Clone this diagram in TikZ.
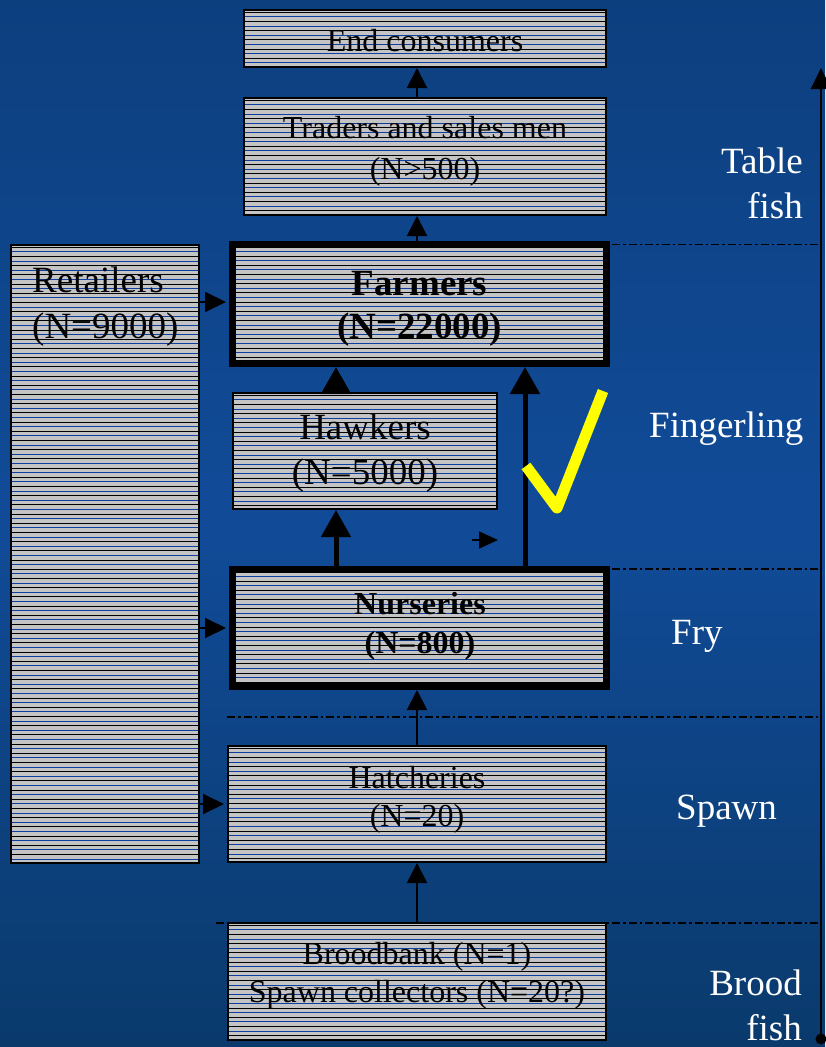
\documentclass[tikz,border=0pt]{standalone}
\usepackage{fontspec}
\setmainfont{Liberation Serif}
\usetikzlibrary{arrows.meta,calc}
\definecolor{bgmid}{HTML}{114B98}
\definecolor{bgtop}{HTML}{0C3F7E}
\definecolor{bgbot}{HTML}{0A3A6C}
\definecolor{boxgray}{HTML}{C4C4C4}
\definecolor{stripeblue}{HTML}{0E3F9E}
\definecolor{tickyellow}{HTML}{FFFF00}
\begin{document}
\begin{tikzpicture}[x=1pt,y=-1pt,
  stripes/.style={path picture={
    \foreach \k in {0,...,70}{
      \draw[black,line width=1pt] ([yshift={-2.3pt-\k*9.2pt}]path picture bounding box.north west) -- ++(420pt,0pt);
      \draw[stripeblue,line width=1pt] ([yshift={-6.9pt-\k*9.2pt}]path picture bounding box.north west) -- ++(420pt,0pt);
    }}},
  thinbox/.style={draw=black,line width=2pt,fill=boxgray,stripes,inner sep=0pt,outer sep=1pt,anchor=north west},
  thickbox/.style={draw=black,line width=7pt,fill=boxgray,stripes,inner sep=0pt,outer sep=3.5pt,anchor=north west},
  boxtext/.style={inner sep=0pt,text=black,align=center},
  sidetext/.style={inner sep=0pt,text=white,font=\fontsize{37}{45}\selectfont},
  thinarrow/.style={draw=black,line width=2pt,-{Triangle[width=20pt,length=20pt]}},
  thickarrow/.style={draw=black,line width=5pt,-{Triangle[width=29pt,length=27pt]}},
  sidearrow/.style={draw=black,line width=2pt,-{Triangle[width=20pt,length=21pt]},shorten >=3pt},
  smallarrow/.style={draw=black,line width=1.5pt,-{Triangle[width=17pt,length=19pt]}},
  axisarrow/.style={draw=black,line width=2.5pt,-{Triangle[width=20pt,length=21pt]}},
  dashdot/.style={draw=black,line width=1.8pt,dash pattern=on 8pt off 3pt on 2.5pt off 3pt},
  checkmark/.style={draw=tickyellow,line width=11pt,line join=round}
]
\useasboundingbox (0,0) rectangle (825,1047);
\fill[top color=bgtop,bottom color=bgbot,middle color=bgmid] (0,0) rectangle (825,1047);

% dash-dot stage separators
\coordinate (d1a) at (612,244.5); \coordinate (d1b) at (821,244.5);
\coordinate (d2a) at (612,569); \coordinate (d2b) at (821,569);
\coordinate (d3a) at (227,717); \coordinate (d3b) at (821,717);
\coordinate (d4a) at (216,923); \coordinate (d4b) at (821,923);
\draw[dashdot] (d1a) -- (d1b);
\draw[dashdot] (d2a) -- (d2b);
\draw[dashdot] (d3a) -- (d3b);
\draw[dashdot] (d4a) -- (d4b);

% boxes
\node[thinbox,minimum width=362pt,minimum height=57pt] (endc) at (243,9) {};
\node[thinbox,minimum width=362pt,minimum height=117pt] (traders) at (243,97) {};
\node[thickbox,minimum width=374pt,minimum height=119pt] (farmers) at (229,241) {};
\node[thinbox,minimum width=188pt,minimum height=618pt] (retail) at (10,244) {};
\node[thinbox,minimum width=264pt,minimum height=116pt] (hawkers) at (232,392) {};
\node[thickbox,minimum width=374pt,minimum height=117pt] (nurs) at (229,566) {};
\node[thinbox,minimum width=378pt,minimum height=116pt] (hatch) at (227,745) {};
\node[thinbox,minimum width=378pt,minimum height=117pt] (brood) at (227,922) {};

% box texts
\node[boxtext,font=\fontsize{32}{38}\selectfont] (endct) at (425,41) {End consumers};
\node[boxtext,font=\fontsize{32}{41}\selectfont] (traderst) at (425,151) {Traders and sales men\\(N>500)};
\node[boxtext,font=\fontsize{37}{43.5}\selectfont\bfseries] (farmerst) at (419.5,309) {Farmers\\(N=22000)};
\node[boxtext,align=left,anchor=north west,font=\fontsize{37}{46}\selectfont] (retailt) at (32,267) {Retailers\\(N=9000)};
\node[boxtext,font=\fontsize{37}{45}\selectfont] (hawkerst) at (365,453) {Hawkers\\(N=5000)};
\node[boxtext,font=\fontsize{32}{39}\selectfont\bfseries] (nurst) at (420,626) {Nurseries\\(N=800)};
\node[boxtext,font=\fontsize{32}{38}\selectfont] (hatcht) at (417,799.5) {Hatcheries\\(N=20)};
\node[boxtext,font=\fontsize{32}{38}\selectfont] (broodt) at (417,975.5) {Broodbank (N=1)\\Spawn collectors (N=20?)};

% stage labels
\node[sidetext,align=right,anchor=north east] (lt) at (803,148) {Table\\fish};
\node[sidetext,anchor=base west] (lf) at (649,437) {Fingerling};
\node[sidetext,anchor=base west] (lfr) at (671,644) {Fry};
\node[sidetext,anchor=base west] (ls) at (676,819) {Spawn};
\node[sidetext,align=right,anchor=north east] (lb) at (802,970) {Brood\\fish};

% connectors
\coordinate (xm) at (417,0);
\coordinate (xa) at (336,0);
\coordinate (xb) at (525,0);
\coordinate (fw) at ([yshift=2pt]farmers.west);
\draw[thinarrow] (traders.north -| xm) -- (endc.south -| xm);
\draw[thinarrow] (farmers.north -| xm) -- (traders.south -| xm);
\draw[thinarrow] (hatch.north -| xm) -- (nurs.south -| xm);
\draw[thinarrow] (brood.north -| xm) -- (hatch.south -| xm);
\draw[thickarrow] (hawkers.north -| xa) -- (farmers.south -| xa);
\draw[thickarrow] (nurs.north -| xa) -- (hawkers.south -| xa);
\draw[thickarrow] (nurs.north -| xb) -- (farmers.south -| xb);
\draw[sidearrow] (retail.east |- fw) -- (fw);
\draw[sidearrow] (retail.east |- nurs.west) -- (nurs.west);
\draw[sidearrow] (retail.east |- hatch.west) -- (hatch.west);

\coordinate (sa) at (472,540); \coordinate (sb) at (498,540);
\draw[smallarrow] (sa) -- (sb);

% vertical axis
\coordinate (axb) at (821,1039); \coordinate (axt) at (821,68);
\draw[axisarrow] (axb) -- (axt);
\fill[black] (axb) circle (5.5pt);

% check mark
\coordinate (c1) at (526,466); \coordinate (c2) at (557,508); \coordinate (c3) at (603,391);
\draw[checkmark] (c1) -- (c2) -- (c3);
\end{tikzpicture}
\end{document}
